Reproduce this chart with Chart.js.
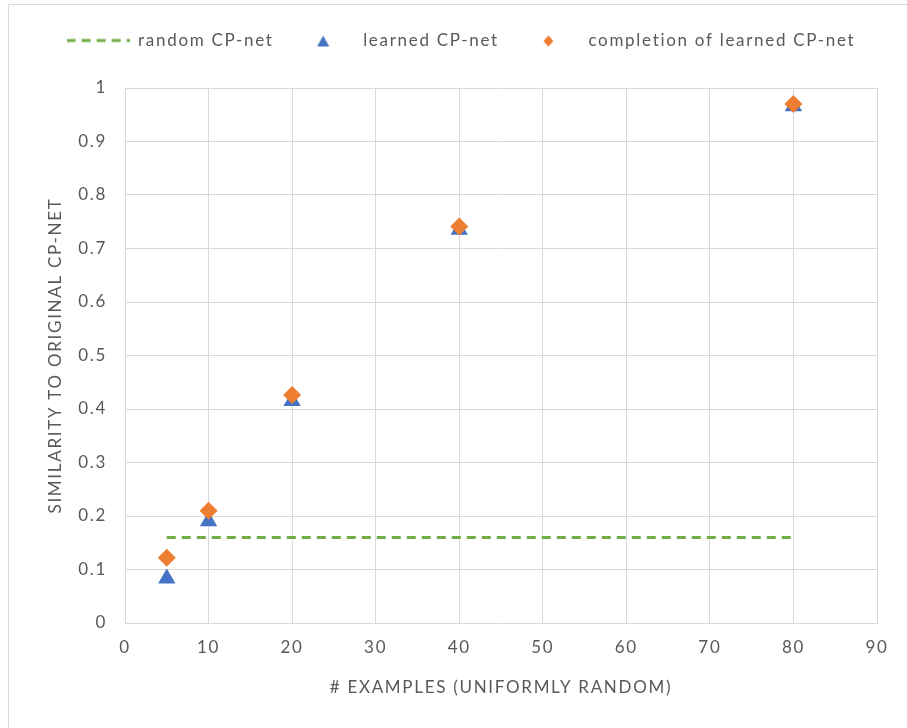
<!DOCTYPE html>
<html>
<head>
  <meta name="viewport" content="width=device-width, initial-scale=1.0">
  <script src="https://cdn.jsdelivr.net/npm/chart.js@4.4.0/dist/chart.umd.min.js"></script>
  <style>
    body { margin: 0; background: #fff; }
    .frame { position: absolute; left: 8px; top: 4px; width: 910px; height: 740px; border: 1px solid #d9d9d9; }
    #chart { position: absolute; left: 0; top: 0; }
  </style>
</head>
<body>
  <div class="frame"></div>
  <canvas id="chart" width="907" height="728"></canvas>
  <script>
  // values
  const examples = [5, 10, 20, 40, 80];
  const learned = [0.083, 0.19, 0.415, 0.735, 0.966];
  const completion = [0.122, 0.21, 0.426, 0.741, 0.970];
  const randomLevel = 0.16;
  const randomRange = [5, 80];

  const toPoints = (xs, ys) => xs.map((x, i) => ({ x: x, y: ys[i] }));

  const grey = '#595959';
  const green = '#70AD47', blue = '#4472C4', orange = '#ED7D31';
  const font = { family: 'Lato', size: 17 };

  // legend symbols: small canvases, drawn at their own size in a 63px box
  function symbol(paint) {
    const c = document.createElement('canvas');
    c.width = 63; c.height = 14;
    paint(c.getContext('2d'));
    return c;
  }
  const dashSym = symbol(g => {
    g.strokeStyle = green; g.lineWidth = 3; g.setLineDash([9, 6]);
    g.beginPath(); g.moveTo(0, 7); g.lineTo(63, 7); g.stroke();
  });
  const triSym = symbol(g => {
    g.fillStyle = blue;
    g.beginPath(); g.moveTo(31.5, 2); g.lineTo(37.5, 13); g.lineTo(25.5, 13); g.closePath(); g.fill();
  });
  const diaSym = symbol(g => {
    g.fillStyle = orange;
    g.beginPath(); g.moveTo(31.5, 2); g.lineTo(36.5, 7.5); g.lineTo(31.5, 13); g.lineTo(26.5, 7.5); g.closePath(); g.fill();
  });
  const legendSyms = [dashSym, triSym, diaSym];

  // excel-ish loose letter spacing on every canvas text
  const spacing = {
    id: 'spacing',
    beforeLayout(chart) { chart.ctx.letterSpacing = '1.7px'; },
    beforeDraw(chart) { chart.ctx.letterSpacing = '1.7px'; }
  };

  // extra room between legend and plot
  const legendGap = {
    id: 'legendGap',
    afterInit(chart) {
      const fit = chart.legend.fit;
      chart.legend.fit = function () { fit.call(this); this.height += 29; };
    }
  };

  Chart.defaults.font.family = 'Lato';
  Chart.defaults.color = grey;

  new Chart(document.getElementById('chart'), {
    type: 'scatter',
    data: {
      datasets: [{
        type: 'line',
        label: 'random CP-net',
        data: toPoints(randomRange, [randomLevel, randomLevel]),
        borderColor: green,
        backgroundColor: green,
        borderWidth: 3,
        borderDash: [9, 6],
        pointRadius: 0,
        order: 2
      }, {
        label: 'learned CP-net',
        data: toPoints(examples, learned),
        pointStyle: 'triangle',
        pointRadius: 10,
        backgroundColor: blue,
        borderColor: blue,
        borderWidth: 0,
        order: 1
      }, {
        label: 'completion of learned CP-net',
        data: toPoints(examples, completion),
        pointStyle: 'rectRot',
        pointRadius: 9,
        backgroundColor: orange,
        borderColor: orange,
        borderWidth: 0,
        order: 0
      }]
    },
    options: {
      responsive: false,
      animation: false,
      layout: { padding: { left: 45, right: 30, top: 14, bottom: 26 } },
      plugins: {
        tooltip: { enabled: false },
        legend: {
          position: 'top',
          labels: {
            usePointStyle: true,
            pointStyleWidth: 63,
            boxHeight: 14,
            padding: 18,
            color: grey,
            font: font,
            sort: (a, b) => a.datasetIndex - b.datasetIndex,
            generateLabels(chart) {
              return chart.data.datasets.map((ds, i) => ({
                text: ds.label,
                datasetIndex: i,
                pointStyle: legendSyms[i],
                fillStyle: 'transparent',
                strokeStyle: 'transparent',
                lineWidth: 0,
                fontColor: grey,
                hidden: false
              }));
            }
          }
        }
      },
      scales: {
        x: {
          type: 'linear',
          min: 0,
          max: 90,
          ticks: { stepSize: 10, padding: 14, color: grey, font: font },
          grid: { color: '#d9d9d9', drawTicks: false },
          border: { color: '#d9d9d9' },
          title: { display: true, text: '# EXAMPLES (UNIFORMLY RANDOM)', color: grey, font: font },
          afterFit(s) { s.height = 79; }
        },
        y: {
          min: 0,
          max: 1,
          ticks: {
            stepSize: 0.1,
            padding: 18,
            color: grey,
            font: font,
            callback: v => String(+v.toFixed(1))
          },
          grid: { color: '#d9d9d9', drawTicks: false },
          border: { color: '#d9d9d9' },
          title: {
            display: true,
            text: 'SIMILARITY TO ORIGINAL CP-NET',
            color: grey,
            font: font,
            padding: { top: 0, bottom: 0 }
          },
          afterFit(s) { s.width = 80; }
        }
      }
    },
    plugins: [spacing, legendGap]
  });
  </script>
</body>
</html>
